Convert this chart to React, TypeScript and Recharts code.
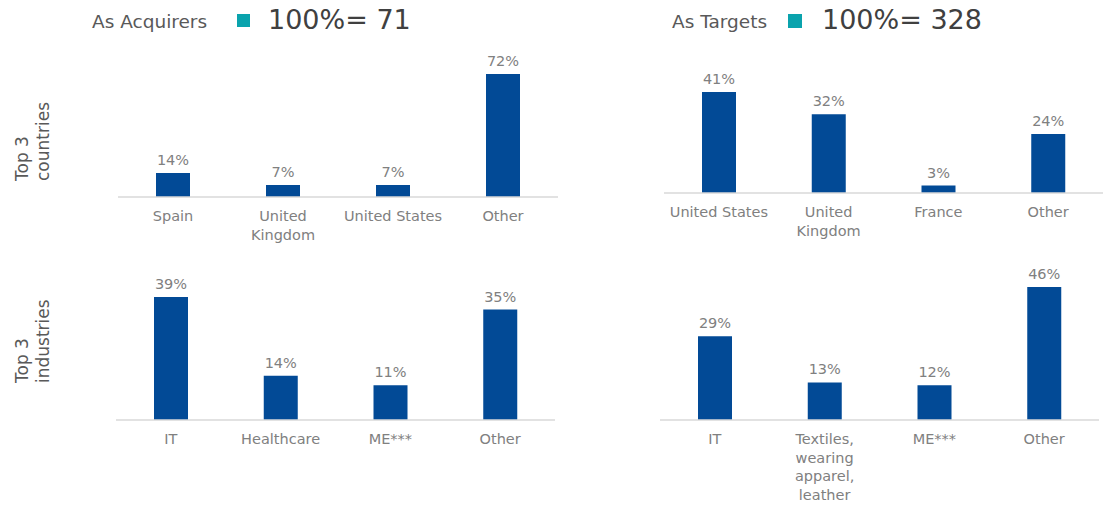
import React from "react";
import { BarChart, Bar, XAxis, YAxis, LabelList } from "recharts";

const acqCountryCats = ["Spain", "United Kingdom", "United States", "Other"];
const acqCountryVals = [14, 7, 7, 72];
const acqCountryTicks = [["Spain"], ["United", "Kingdom"], ["United States"], ["Other"]];

const tgtCountryCats = ["United States", "United Kingdom", "France", "Other"];
const tgtCountryVals = [41, 32, 3, 24];
const tgtCountryTicks = [["United States"], ["United", "Kingdom"], ["France"], ["Other"]];

const acqIndustryCats = ["IT", "Healthcare", "ME***", "Other"];
const acqIndustryVals = [39, 14, 11, 35];
const acqIndustryTicks = [["IT"], ["Healthcare"], ["ME***"], ["Other"]];

const tgtIndustryCats = ["IT", "Textiles, wearing apparel, leather", "ME***", "Other"];
const tgtIndustryVals = [29, 13, 12, 46];
const tgtIndustryTicks = [["IT"], ["Textiles,", "wearing", "apparel,", "leather"], ["ME***"], ["Other"]];

const FONT = "'DejaVu Sans', Verdana, sans-serif";
const BAR = "#024A96";
const GRAY = "#808080";

type PanelProps = {
  cats: string[];
  vals: number[];
  ticks: string[][];
  left: number;
  right: number;
  top: number;
  axisY: number;
};

function Panel({ cats, vals, ticks, left, right, top, axisY }: PanelProps) {
  const data = cats.map((c, i) => ({ name: c, value: vals[i] }));
  const H = 506;
  const maxV = Math.max(...vals);
  const renderTick = (props: any) => {
    const { x, y, index } = props;
    const lines = ticks[index] || [String(props.payload.value)];
    return (
      <text x={x} y={y} textAnchor="middle" fill={GRAY} fontSize={14.5} fontFamily={FONT}>
        {lines.map((l, i) => (
          <tspan key={i} x={x} dy={i === 0 ? 24 : 18.5}>
            {l}
          </tspan>
        ))}
      </text>
    );
  };
  return (
    <div style={{ position: "absolute", left: 0, top: 0 }}>
      <BarChart
        width={1109}
        height={H}
        data={data}
        margin={{ top, left, right, bottom: 0 }}
        barCategoryGap={0}
      >
        <XAxis
          dataKey="name"
          axisLine={{ stroke: "#d9d9d9", strokeWidth: 1.5 }}
          tickLine={false}
          tickSize={0}
          tickMargin={0}
          interval={0}
          height={H - axisY}
          tick={renderTick}
        />
        <YAxis hide domain={[0, maxV]} />
        <Bar dataKey="value" fill={BAR} barSize={34} isAnimationActive={false}>
          <LabelList
            dataKey="value"
            position="top"
            offset={8}
            formatter={(v: any) => `${v}%`}
            style={{ fill: GRAY, fontSize: 14.5, fontFamily: FONT }}
          />
        </Bar>
      </BarChart>
    </div>
  );
}

export default function App() {
  return (
    <div
      style={{
        position: "absolute",
        left: 0,
        top: 0,
        width: 1109,
        height: 506,
        background: "#fff",
        fontFamily: FONT,
        overflow: "hidden",
      }}
    >
      <Panel cats={acqCountryCats} vals={acqCountryVals} ticks={acqCountryTicks} left={118} right={551} top={74} axisY={197} />
      <Panel cats={tgtCountryCats} vals={tgtCountryVals} ticks={tgtCountryTicks} left={664} right={6} top={92} axisY={193} />
      <Panel cats={acqIndustryCats} vals={acqIndustryVals} ticks={acqIndustryTicks} left={116} right={554} top={297} axisY={420} />
      <Panel cats={tgtIndustryCats} vals={tgtIndustryVals} ticks={tgtIndustryTicks} left={660} right={10} top={287} axisY={420} />

      <svg width={1109} height={506} style={{ position: "absolute", left: 0, top: 0, pointerEvents: "none" }}>
        <text x={92} y={28} fill="#595959" fontSize={18.5} fontFamily={FONT}>As Acquirers</text>
        <rect x={237} y={14} width={13} height={13} fill="#0AA3AD" />
        <text x={268} y={29} fill="#404040" fontSize={27} fontFamily={FONT}>100%= 71</text>

        <text x={672} y={28} fill="#595959" fontSize={18.5} fontFamily={FONT}>As Targets</text>
        <rect x={788} y={14} width={14} height={14} fill="#0AA3AD" />
        <text x={822} y={29} fill="#404040" fontSize={27} fontFamily={FONT}>100%= 328</text>

        <text transform="translate(28,181) rotate(-90)" textAnchor="start" fill="#595959" fontSize={17} fontFamily={FONT}>
          <tspan x={0} dy={0}>Top 3</tspan>
          <tspan x={0} dy={21}>countries</tspan>
        </text>
        <text transform="translate(28,383) rotate(-90)" textAnchor="start" fill="#595959" fontSize={17} fontFamily={FONT}>
          <tspan x={0} dy={0}>Top 3</tspan>
          <tspan x={0} dy={21}>industries</tspan>
        </text>
      </svg>
    </div>
  );
}
